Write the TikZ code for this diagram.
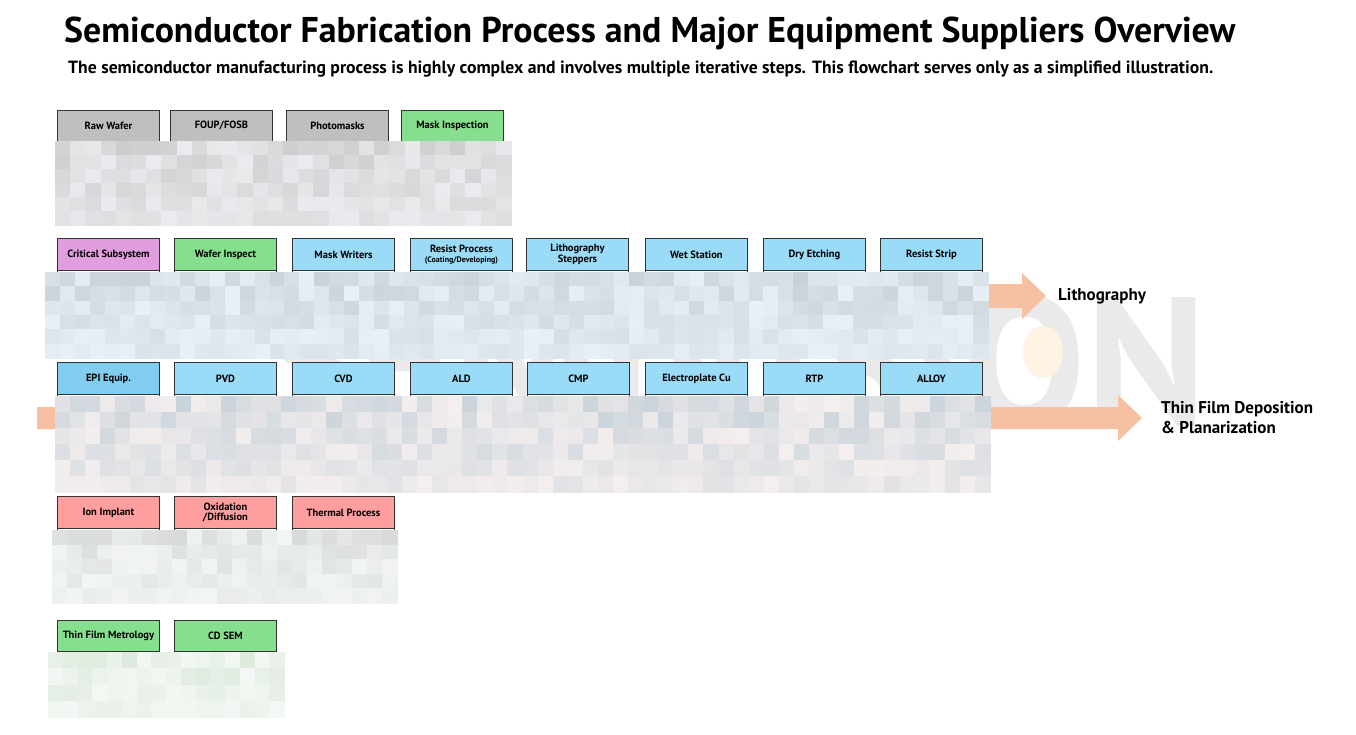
\documentclass[tikz,border=0pt]{standalone}
\usepackage{fontspec}
\setmainfont{PT Sans}
\definecolor{grayBox}{HTML}{BFBFBF}
\definecolor{greenBox}{HTML}{86DF8E}
\definecolor{blueBox}{HTML}{9ADBF7}
\definecolor{epiBlue}{HTML}{80CDEF}
\definecolor{pinkBox}{HTML}{E09EDF}
\definecolor{redBox}{HTML}{FF9E9E}
\definecolor{arrowOr}{HTML}{F6C1A3}
\definecolor{wmGray}{HTML}{EAEAEA}
\definecolor{wmOrange}{HTML}{FFF3E3}
\definecolor{bAa}{HTML}{BFC2C2}\definecolor{bAb}{HTML}{ECEAEE}
\definecolor{bBa}{HTML}{BFC6CC}\definecolor{bBb}{HTML}{E6F0F6}
\definecolor{bCa}{HTML}{B8C8D2}\definecolor{bCb}{HTML}{F4EEEE}
\definecolor{bDa}{HTML}{CFD2CF}\definecolor{bDb}{HTML}{F2F6F2}
\definecolor{bEa}{HTML}{D2E4D2}\definecolor{bEb}{HTML}{F4F8F4}
\newcommand\mymosaic[7]{%
  \pgfmathsetseed{#7}%
  \pgfmathtruncatemacro\mync{round((#3-#1)/15)}%
  \pgfmathtruncatemacro\mynr{round((#4-#2)/15)}%
  \pgfmathsetmacro\mycw{(#3-#1)/\mync}%
  \pgfmathsetmacro\mych{(#4-#2)/\mynr}%
  \foreach \i in {1,...,\mync}{%
    \foreach \j in {1,...,\mynr}{%
      \pgfmathtruncatemacro\myr{random(0,75)*(1-0.7*(\j-1)/\mynr)}%
      \pgfmathsetmacro\myxa{#1+(\i-1)*\mycw}%
      \pgfmathsetmacro\myya{#2+(\j-1)*\mych}%
      \fill[fill={#5!\myr!#6}] (\myxa,\myya) rectangle ++(\mycw+0.6,\mych+0.6);
    }%
  }%
}
\begin{document}
\begin{tikzpicture}[x=1pt,y=-1pt,
  hdr/.style={draw=black!80, line width=0.9pt, minimum width=102pt, minimum height=31pt,
    inner sep=1pt, anchor=north west, font=\bfseries\fontsize{10.5}{11.5}\selectfont,
    align=center, text=black},
  bodybox/.style={draw=black!80, line width=0.9pt, fill=white},
  flowarrow/.style={fill=arrowOr},
  stage/.style={anchor=west, font=\bfseries\fontsize{17}{20}\selectfont, align=left, inner sep=0pt}]
\fill[white] (0,0) rectangle (1356,735);
\useasboundingbox (0,0) rectangle (1356,735);

% watermark
\node[anchor=base east, inner sep=0pt, text=wmGray, font=\bfseries\fontsize{183}{183}\selectfont] (wm) at (1207,425) {SEMIVISION};
\fill[wmOrange] (1043,352) ellipse [x radius=20, y radius=26];

% title
\node[anchor=west, inner sep=0pt] (title) at (64,33) {\resizebox{1171pt}{!}{\bfseries Semiconductor Fabrication Process and Major Equipment Suppliers Overview}};
\node[anchor=west, inner sep=0pt] (sub) at (68,69) {\resizebox{1145pt}{!}{\bfseries The semiconductor manufacturing process is highly complex and involves multiple iterative steps. This flowchart serves only as a simplified illustration.}};

% flow arrows
\fill[flowarrow] (60,284) -- (1022,284) -- (1022,273) -- (1046,296) -- (1022,319) -- (1022,308) -- (60,308) -- cycle;
\fill[flowarrow] (37,407) -- (1118,407) -- (1118,395) -- (1142,418) -- (1118,441) -- (1118,429) -- (37,429) -- cycle;
\node[stage] (litho) at (1058,296) {Lithography};
\node[stage] (tfd) at (1161,418) {Thin Film Deposition\\\& Planarization};

% bodies of the boxes
\foreach \x in {57,170,286,401} {\draw[bodybox] (\x,110) rectangle ++(102,110);}
\foreach \x in {57,174,292,410,526,645,763,880} {\draw[bodybox] (\x,238) rectangle ++(102,112);}
\foreach \x in {57,174,292,410,527,645,763,880} {\draw[bodybox] (\x,362) rectangle ++(102,120);}
\foreach \x in {57,174,292} {\draw[bodybox] (\x,496) rectangle ++(102,100);}
\draw[bodybox] (57,620) rectangle (159,717);
\draw[bodybox] (174,620) rectangle (276,700);

% row 1
\node[hdr, fill=grayBox] (rw) at (57,110) {Raw Wafer};
\node[hdr, fill=grayBox] (foup) at (170,110) {FOUP/FOSB};
\node[hdr, fill=grayBox] (pm) at (286,110) {Photomasks};
\node[hdr, fill=greenBox] (mi) at (401,110) {Mask Inspection};
% row 2
\node[hdr, fill=pinkBox, minimum height=32pt] (cs) at (57,238) {Critical Subsystem};
\node[hdr, fill=greenBox, minimum height=32pt] (wi) at (174,238) {Wafer Inspect};
\node[hdr, fill=blueBox, minimum height=32pt] (mw) at (292,238) {Mask Writers};
\node[hdr, fill=blueBox, minimum height=32pt] (rp) at (410,238) {Resist Process\\[-2pt]{\fontsize{8}{9}\selectfont (Coating/Developing)}};
\node[hdr, fill=blueBox, minimum height=32pt] (ls) at (526,238) {Lithography\\[-1pt]Steppers};
\node[hdr, fill=blueBox, minimum height=32pt] (ws) at (645,238) {Wet Station};
\node[hdr, fill=blueBox, minimum height=32pt] (de) at (763,238) {Dry Etching};
\node[hdr, fill=blueBox, minimum height=32pt] (rs) at (880,238) {Resist Strip};
% row 3
\node[hdr, fill=epiBlue, minimum height=32pt] (epi) at (57,362) {EPI Equip.};
\node[hdr, fill=blueBox, minimum height=32pt] (pvd) at (174,362) {PVD};
\node[hdr, fill=blueBox, minimum height=32pt] (cvd) at (292,362) {CVD};
\node[hdr, fill=blueBox, minimum height=32pt] (ald) at (410,362) {ALD};
\node[hdr, fill=blueBox, minimum height=32pt] (cmp) at (527,362) {CMP};
\node[hdr, fill=blueBox, minimum height=32pt] (ecu) at (645,362) {Electroplate Cu};
\node[hdr, fill=blueBox, minimum height=32pt] (rtp) at (763,362) {RTP};
\node[hdr, fill=blueBox, minimum height=32pt] (alloy) at (880,362) {ALLOY};
% row 4
\node[hdr, fill=redBox, minimum height=32pt] (ii) at (57,496) {Ion Implant};
\node[hdr, fill=redBox, minimum height=32pt] (ox) at (174,496) {Oxidation\\[-1pt]/Diffusion};
\node[hdr, fill=redBox, minimum height=32pt] (tp) at (292,496) {Thermal Process};
% row 5
\node[hdr, fill=greenBox] (tfm) at (57,620) {Thin Film Metrology};
\node[hdr, fill=greenBox] (cdsem) at (174,620) {CD SEM};

% pixelated (blurred) regions
\mymosaic{55}{141}{511}{225}{bAa}{bAb}{11}
\mymosaic{45}{272}{988}{358}{bBa}{bBb}{23}
\mymosaic{55}{396}{990}{492}{bCa}{bCb}{37}
\mymosaic{52}{530}{397}{603}{bDa}{bDb}{41}
\mymosaic{48}{652}{284}{717}{bEa}{bEb}{53}
\end{tikzpicture}
\end{document}
